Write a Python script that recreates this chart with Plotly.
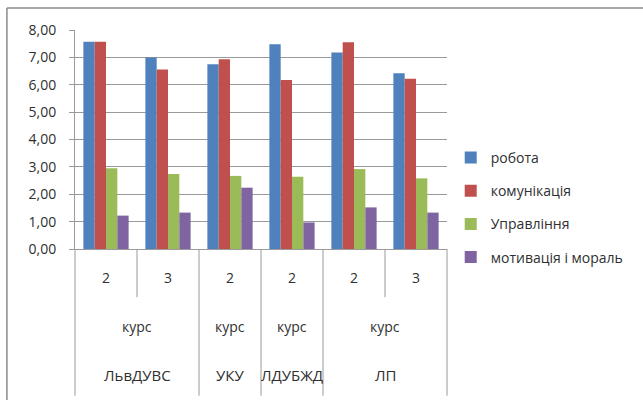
import plotly.graph_objects as go

# Survey scores by institution and year of study
universities = ["ЛьвДУВС", "ЛьвДУВС", "УКУ", "ЛДУБЖД", "ЛП", "ЛП"]
level_label = "курс"
courses = ["2", "3", "2", "2", "2", "3"]

series_names = ["робота", "комунікація", "Управління", "мотивація і мораль"]
robota = [7.57, 7.00, 6.75, 7.48, 7.18, 6.42]
komunikatsiia = [7.57, 6.56, 6.93, 6.17, 7.55, 6.22]
upravlinnia = [2.95, 2.74, 2.67, 2.64, 2.92, 2.58]
motyvatsiia = [1.22, 1.33, 2.24, 0.97, 1.52, 1.33]

colors = ["#4F81BD", "#C0504D", "#9BBB59", "#8064A2"]
FONT = "Open Sans"
TXT = "#2f2f2f"
GRID = "#9a9a9a"

x_idx = list(range(len(courses)))
x_range = [-0.5, len(courses) - 0.5]

fig = go.Figure()
for name, vals, col in zip(series_names,
                           [robota, komunikatsiia, upravlinnia, motyvatsiia],
                           colors):
    fig.add_trace(go.Bar(
        x=x_idx, y=vals, name=name, legendgroup=name,
        marker=dict(color=col, line=dict(width=0)),
    ))


def px(i):
    """Category index -> paper x coordinate."""
    return (i - x_range[0]) / (x_range[1] - x_range[0])


shapes = []
annotations = []
label_font = dict(family=FONT, size=14, color=TXT)
name_font = dict(family=FONT, size=15, color=TXT)

# Level 1: course numbers
for i, c in enumerate(courses):
    annotations.append(dict(x=px(i), y=-0.13, xref="paper", yref="paper",
                            xanchor="center", yanchor="middle",
                            text=c, showarrow=False, font=label_font))

# Group consecutive categories by institution
spans = []
start = 0
for i in range(1, len(universities) + 1):
    if i == len(universities) or universities[i] != universities[start]:
        spans.append((start, i - 1, universities[start]))
        start = i

short_y, long_y = -0.22, -0.67
# dividers between course numbers inside an institution
for s, e, _ in spans:
    for b in range(s, e):
        xb = px(b + 0.5)
        shapes.append(dict(type="line", xref="paper", yref="paper",
                           x0=xb, x1=xb, y0=0, y1=short_y,
                           line=dict(color=GRID, width=1)))
# dividers between institutions and outer edges
bounds = [spans[0][0] - 0.5] + [e + 0.5 for _, e, _ in spans]
for b in bounds:
    xb = px(b)
    shapes.append(dict(type="line", xref="paper", yref="paper",
                       x0=xb, x1=xb, y0=0, y1=long_y,
                       line=dict(color=GRID, width=1)))

# Level 2 and 3 labels
for s, e, name in spans:
    xc = px((s + e) / 2)
    annotations.append(dict(x=xc, y=-0.355, xref="paper", yref="paper",
                            xanchor="center", yanchor="middle",
                            text=level_label, showarrow=False, font=label_font))
    annotations.append(dict(x=xc, y=-0.575, xref="paper", yref="paper",
                            xanchor="center", yanchor="middle",
                            text=name, showarrow=False, font=name_font))

# chart frame (left and top edges)
shapes.append(dict(type="line", xref="paper", yref="paper",
                   x0=-0.183, x1=-0.183, y0=-0.75, y1=1.10,
                   line=dict(color="#8a8a8a", width=1.5)))
shapes.append(dict(type="line", xref="paper", yref="paper",
                   x0=-0.183, x1=1.6, y0=1.10, y1=1.10,
                   line=dict(color="#8a8a8a", width=1.5)))

fig.update_layout(
    width=643, height=400,
    margin=dict(l=75, r=196, t=30, b=151),
    paper_bgcolor="white", plot_bgcolor="white",
    separators=", ",
    barmode="group", bargap=0.27, bargroupgap=0,
    font=dict(family=FONT, size=14, color=TXT),
    showlegend=True,
    legend=dict(x=1.01, xanchor="left", y=0.19, yanchor="middle",
                tracegroupgap=12, traceorder="grouped",
                font=dict(family=FONT, size=14, color=TXT),
                bgcolor="rgba(0,0,0,0)"),
    xaxis=dict(range=x_range, showticklabels=False, showgrid=False,
               zeroline=False, showline=True, linecolor=GRID, linewidth=1,
               ticks=""),
    yaxis=dict(range=[0, 8], dtick=1, tickformat=".2f",
               showgrid=True, gridcolor=GRID, gridwidth=1,
               zeroline=False, showline=True, linecolor=GRID, linewidth=1,
               ticks="outside", ticklen=5, tickcolor=GRID,
               ticklabelstandoff=10,
               tickfont=dict(family=FONT, size=14, color=TXT)),
    shapes=shapes, annotations=annotations,
)

fig.write_html("out.html")
